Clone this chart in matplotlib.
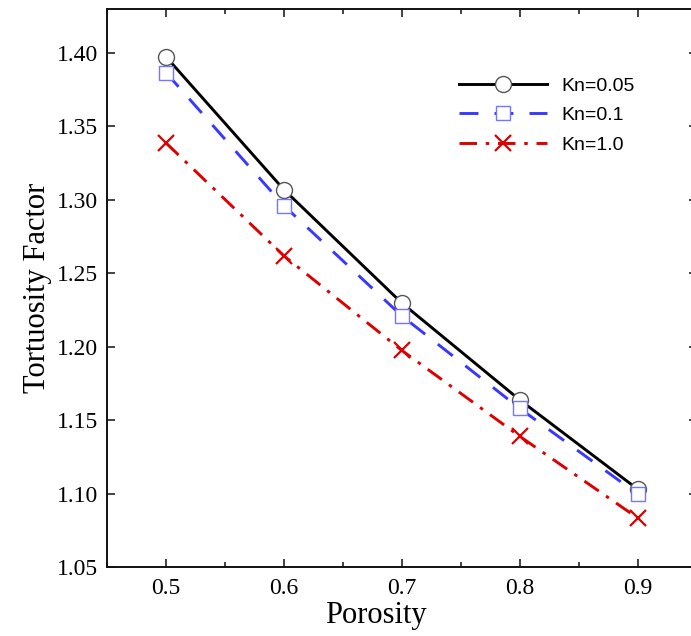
import matplotlib
matplotlib.use("Agg")
import matplotlib.pyplot as plt
from matplotlib.ticker import MultipleLocator

porosity = [0.5, 0.6, 0.7, 0.8, 0.9]
kn005 = [1.3975, 1.307, 1.2298, 1.1638, 1.1030]
kn01 = [1.3867, 1.2961, 1.2210, 1.1580, 1.0997]
kn10 = [1.3388, 1.2619, 1.1975, 1.1390, 1.0834]
labels = ["Kn=0.05", "Kn=0.1", "Kn=1.0"]
xticks = [0.5, 0.6, 0.7, 0.8, 0.9]
yticks = [1.05, 1.10, 1.15, 1.20, 1.25, 1.30, 1.35, 1.40]

W, H = 691, 636
fig = plt.figure(figsize=(W / 100, H / 100), dpi=100)
ax = fig.add_axes([107 / W, (H - 567) / H, 589.6 / W, 558 / H])

ax.plot(porosity, kn005, color="black", lw=2.1, ls="-",
        marker="o", ms=11.5, mfc="white", mec="#555555", mew=1.0,
        label=labels[0], zorder=3)
ax.plot(porosity, kn01, color="#3838FF", lw=2.1, ls=(0, (6.5, 5.5)),
        marker="s", ms=9.5, mfc="white", mec="#7575FF", mew=1.0,
        label=labels[1], zorder=3)
ax.plot(porosity, kn10, color="#DD0000", lw=2.1, ls=(0, (6, 3, 1.2, 3)),
        marker="x", ms=11, mfc="none", mec="#DD0000", mew=1.6,
        label=labels[2], zorder=3)

ax.set_xlim(0.45, 0.95)
ax.set_ylim(1.05, 1.43)
ax.set_xticks(xticks)
ax.set_yticks(yticks)
ax.xaxis.set_minor_locator(MultipleLocator(0.05))
ax.set_xticklabels([f"{v:.1f}" for v in xticks])
ax.set_yticklabels([f"{v:.2f}" for v in yticks])

serif = ["Liberation Serif", "DejaVu Serif"]
for lbl in ax.get_xticklabels() + ax.get_yticklabels():
    lbl.set_fontfamily(serif)
    lbl.set_fontsize(17)

ax.tick_params(which="both", direction="in", top=True, right=True, width=1.2, color="#222222")
ax.tick_params(which="major", length=6)
ax.tick_params(which="minor", length=3.8)
ax.tick_params(axis="y", pad=6.5)
ax.tick_params(axis="x", pad=8)
for s in ax.spines.values():
    s.set_linewidth(1.4)
    s.set_color("#111111")

ax.set_xlabel("Porosity", fontfamily=serif, fontsize=22)
ax.set_ylabel("Tortuosity Factor", fontfamily=serif, fontsize=22)
ax.xaxis.set_label_coords((376 - 107) / 589.6, -(601 - 567) / 558)
ax.yaxis.set_label_coords(-(107 - 52) / 589.6, 0.5)

leg = ax.legend(loc="upper left", bbox_to_anchor=((459 - 107) / 589.6, 1 - (77 - 9) / 558),
                frameon=False, prop={"family": ["Liberation Sans", "DejaVu Sans"], "size": 14},
                handlelength=4.5, handletextpad=0.75, labelspacing=0.62, borderpad=0,
                borderaxespad=0, numpoints=1)

fig.savefig("out.png", dpi=100)
